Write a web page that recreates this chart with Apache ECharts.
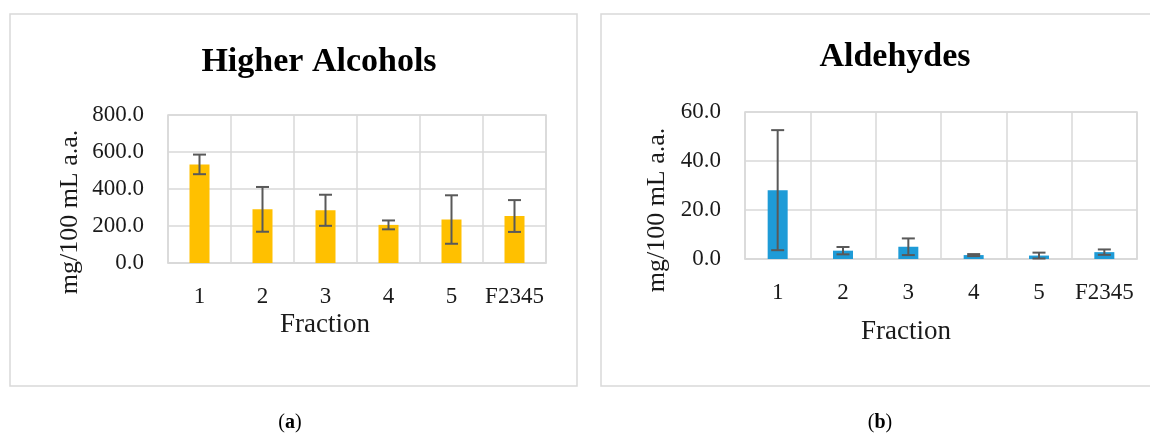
<!DOCTYPE html>
<html>
<head>
<meta charset="utf-8">
<script src="https://cdn.jsdelivr.net/npm/echarts@6/dist/echarts.min.js"></script>
<style>
html,body{margin:0;padding:0;background:#fff;}
#c{width:1150px;height:436px;}
</style>
</head>
<body>
<div id="c"></div>
<script>
const categories = ['1', '2', '3', '4', '5', 'F2345'];
const alcoholsMean = [533, 290, 285, 206, 235, 254];
const alcoholsErr = [53, 121, 84, 24, 131, 86];
const aldehydesMean = [28.1, 3.4, 5.0, 1.6, 1.4, 2.8];
const aldehydesErr = [24.5, 1.5, 3.4, 0.4, 1.2, 1.1];
const alcoholsTicks = { min: 0, max: 800, interval: 200 };
const aldehydesTicks = { min: 0, max: 60, interval: 20 };

const FONT = '"Liberation Serif", "DejaVu Serif", serif';
const GRID_C = '#d9d9d9';
const TXT = '#1a1a1a';

function errData(mean, err) {
  return mean.map((m, i) => [i, m - err[i], m + err[i]]);
}

function errRender(params, api) {
  const x = api.value(0);
  const lo = api.coord([x, api.value(1)]);
  const hi = api.coord([x, api.value(2)]);
  const hw = 6.5;
  const st = { stroke: '#595959', lineWidth: 2 };
  return {
    type: 'group',
    children: [
      { type: 'line', shape: { x1: lo[0], y1: lo[1], x2: hi[0], y2: hi[1] }, style: st },
      { type: 'line', shape: { x1: lo[0] - hw, y1: lo[1], x2: lo[0] + hw, y2: lo[1] }, style: st },
      { type: 'line', shape: { x1: hi[0] - hw, y1: hi[1], x2: hi[0] + hw, y2: hi[1] }, style: st }
    ]
  };
}

function xAxis(gi) {
  return {
    type: 'category', gridIndex: gi, data: categories,
    axisLine: { show: true, lineStyle: { color: GRID_C, width: 1.5 } },
    axisTick: { show: false },
    splitLine: { show: true, lineStyle: { color: GRID_C, width: 1.5 } },
    axisLabel: { color: TXT, fontFamily: FONT, fontSize: 23, margin: 22, interval: 0 }
  };
}
function yAxis(gi, t) {
  return {
    type: 'value', gridIndex: gi, min: t.min, max: t.max, interval: t.interval,
    axisLine: { show: false }, axisTick: { show: false },
    splitLine: { show: true, lineStyle: { color: GRID_C, width: 1.5 } },
    axisLabel: { color: TXT, fontFamily: FONT, fontSize: 23, margin: 24,
      formatter: v => v.toFixed(1) }
  };
}

const chart = echarts.init(document.getElementById('c'), null, { renderer: 'canvas' });
chart.setOption({
  animation: false,
  backgroundColor: '#fff',
  grid: [
    { left: 168, top: 115, width: 378, height: 148, show: true, borderColor: GRID_C, borderWidth: 1.5 },
    { left: 745, top: 112, width: 392, height: 147, show: true, borderColor: GRID_C, borderWidth: 1.5 }
  ],
  xAxis: [xAxis(0), xAxis(1)],
  yAxis: [yAxis(0, alcoholsTicks), yAxis(1, aldehydesTicks)],
  series: [
    { type: 'bar', xAxisIndex: 0, yAxisIndex: 0, data: alcoholsMean, barWidth: 20,
      itemStyle: { color: '#ffc000' } },
    { type: 'custom', xAxisIndex: 0, yAxisIndex: 0, data: errData(alcoholsMean, alcoholsErr),
      renderItem: errRender, z: 5 },
    { type: 'bar', xAxisIndex: 1, yAxisIndex: 1, data: aldehydesMean, barWidth: 20,
      itemStyle: { color: '#1e9bd7' } },
    { type: 'custom', xAxisIndex: 1, yAxisIndex: 1, data: errData(aldehydesMean, aldehydesErr),
      renderItem: errRender, z: 5 }
  ],
  graphic: [
    { type: 'rect', shape: { x: 10, y: 14, width: 567, height: 372 },
      style: { fill: 'none', stroke: GRID_C, lineWidth: 1.5 }, z: -10 },
    { type: 'rect', shape: { x: 601, y: 14, width: 560, height: 372 },
      style: { fill: 'none', stroke: GRID_C, lineWidth: 1.5 }, z: -10 },
    { type: 'text', x: 319, y: 62, style: { text: 'Higher Alcohols', fontFamily: FONT, fontSize: 34,
      fontWeight: 'bold', fill: '#000', textAlign: 'center', textVerticalAlign: 'middle' } },
    { type: 'text', x: 895, y: 57, style: { text: 'Aldehydes', fontFamily: FONT, fontSize: 34,
      fontWeight: 'bold', fill: '#000', textAlign: 'center', textVerticalAlign: 'middle' } },
    { type: 'text', x: 325, y: 325, style: { text: 'Fraction', fontFamily: FONT, fontSize: 27,
      fill: TXT, textAlign: 'center', textVerticalAlign: 'middle' } },
    { type: 'text', x: 906, y: 332, style: { text: 'Fraction', fontFamily: FONT, fontSize: 27,
      fill: TXT, textAlign: 'center', textVerticalAlign: 'middle' } },
    { type: 'text', x: 70, y: 212, rotation: Math.PI / 2, style: { text: 'mg/100 mL a.a.', fontFamily: FONT,
      fontSize: 26, fill: TXT, textAlign: 'center', textVerticalAlign: 'middle' } },
    { type: 'text', x: 657, y: 210, rotation: Math.PI / 2, style: { text: 'mg/100 mL a.a.', fontFamily: FONT,
      fontSize: 26, fill: TXT, textAlign: 'center', textVerticalAlign: 'middle' } },
    { type: 'text', x: 290, y: 423, style: { text: '({b|a})', fontFamily: FONT, fontSize: 20, fill: '#000',
      textAlign: 'center', textVerticalAlign: 'middle',
      rich: { b: { fontFamily: FONT, fontSize: 20, fontWeight: 'bold', fill: '#000' } } } },
    { type: 'text', x: 880, y: 423, style: { text: '({b|b})', fontFamily: FONT, fontSize: 20, fill: '#000',
      textAlign: 'center', textVerticalAlign: 'middle',
      rich: { b: { fontFamily: FONT, fontSize: 20, fontWeight: 'bold', fill: '#000' } } } }
  ]
});
</script>
</body>
</html>
